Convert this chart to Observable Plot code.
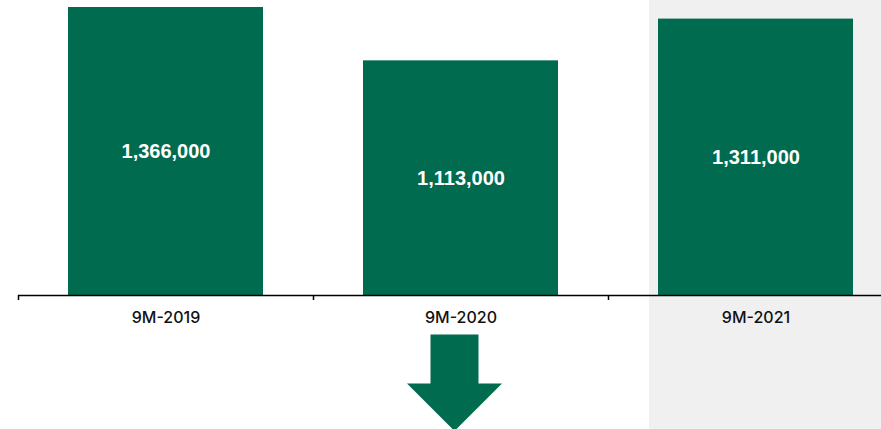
<!DOCTYPE html>
<html>
<head>
<meta charset="utf-8">
<script src="https://cdn.jsdelivr.net/npm/d3@7"></script>
<script src="https://cdn.jsdelivr.net/npm/@observablehq/plot@0.6"></script>
<style>
  html, body { margin: 0; padding: 0; background: #ffffff; overflow: hidden; }
  #chart svg { display: block; }
</style>
</head>
<body>
<div id="chart"></div>
<script>
const categories = ["9M-2019", "9M-2020", "9M-2021"];
const values = [1366000, 1113000, 1311000];
const valueLabels = ["1,366,000", "1,113,000", "1,311,000"];
const highlighted = ["9M-2021"];
const arrowAt = ["9M-2020"];

const data = categories.map((c, i) => ({category: c, value: values[i], label: valueLabels[i]}));

const green = "#006b4f";

const arrowSymbol = {
  draw(context) {
    context.moveTo(-24, -49);
    context.lineTo(24, -49);
    context.lineTo(24, 0);
    context.lineTo(47.5, 0);
    context.lineTo(0, 47.5);
    context.lineTo(-47.5, 0);
    context.lineTo(-24, 0);
    context.closePath();
  }
};

const chart = Plot.plot({
  width: 881,
  height: 429,
  marginTop: 7,
  marginBottom: 134,
  marginLeft: 18,
  marginRight: 0,
  style: {fontFamily: "Inter, 'Liberation Sans', Arial, sans-serif", color: "#111111", background: "#ffffff", overflow: "visible"},
  x: {domain: categories, range: [18, 903], paddingInner: 0.339, paddingOuter: 0.1695, label: null},
  y: {domain: [0, 1366000], axis: null},
  marks: [
    Plot.cell(highlighted, {x: d => d, fill: "#f0f0f0", insetLeft: -9, insetRight: -60, insetTop: -7, insetBottom: -140}),
    Plot.barY(data, {x: "category", y: "value", fill: green}),
    Plot.text(data, {x: "category", y: d => d.value / 2, text: "label", fill: "#ffffff", fontSize: 20, fontWeight: "bold", fontFamily: "'Liberation Sans', Arial, sans-serif"}),
    Plot.ruleY([0], {stroke: "#000000", strokeWidth: 1.5}),
    Plot.ruleX(categories, {x: d => d, dx: -147.5, insetTop: 288, insetBottom: -5, stroke: "#000000", strokeWidth: 1.5}),
    Plot.axisX({tickSize: 0, tickPadding: 16, fontSize: 16, fontWeight: 500, label: null}),
    Plot.dot(arrowAt, {x: d => d, y: 0, dx: -6.5, dy: 88, symbol: arrowSymbol, fill: green, stroke: null, r: 10})
  ]
});

document.getElementById("chart").appendChild(chart);
</script>
</body>
</html>
